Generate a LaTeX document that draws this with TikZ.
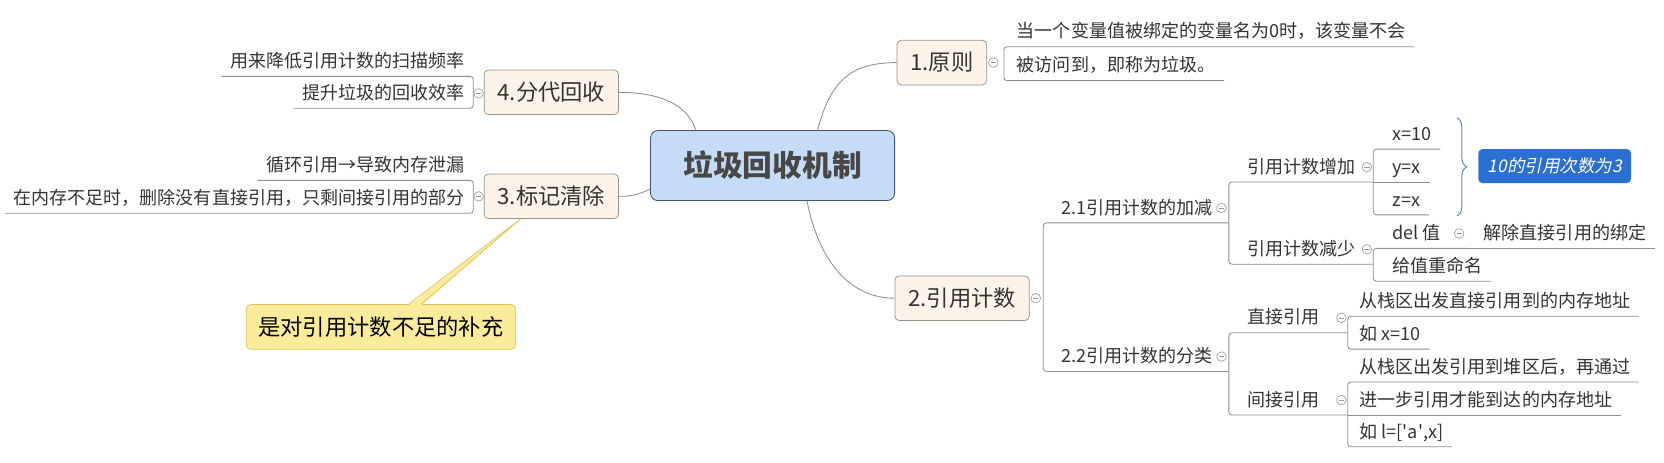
\documentclass[tikz,border=0pt]{standalone}
\usepackage{fontspec}
\setmainfont{Noto Sans CJK SC}
\newfontfamily\tagfont{Noto Sans CJK SC}[FakeSlant=0.2]
\usetikzlibrary{calc, decorations.pathreplacing}

\definecolor{linegray}{HTML}{8E8E8E}
\definecolor{foldgray}{HTML}{9A9A9A}
\definecolor{inkgray}{HTML}{333333}
\definecolor{topicfill}{HTML}{FCF3E9}
\definecolor{topicline}{HTML}{9C9187}
\definecolor{rootfill}{HTML}{C6DBF6}
\definecolor{rootline}{HTML}{3E5478}
\definecolor{notefill}{HTML}{FBEC9C}
\definecolor{noteline}{HTML}{E3C25E}
\definecolor{tagblue}{HTML}{2C6FD3}
\definecolor{bracecol}{HTML}{5A83C5}

\begin{document}
\begin{tikzpicture}[x=1pt, y=-1pt,
    link/.style={draw=linegray, line width=0.8pt, rounded corners=3pt},
    leaf/.style={inner xsep=8pt, inner ysep=4pt, text height=12pt, text depth=4pt,
        text=inkgray, font=\fontsize{17}{20}\selectfont},
    lleaf/.style={leaf, anchor=south east},
    rleaf/.style={leaf, anchor=south west},
    topic/.style={draw=topicline, fill=topicfill, rounded corners=4pt, line width=0.7pt,
        minimum height=42pt, inner xsep=12.5pt, text=inkgray,
        font=\fontsize{21}{24}\selectfont},
    fold/.style={circle, draw=foldgray, fill=white, line width=0.6pt, minimum size=9pt,
        inner sep=0pt, path picture={\draw[foldgray, line width=0.6pt]
        ([xshift=-2.5pt]path picture bounding box.center) --
        ([xshift=2.5pt]path picture bounding box.center);}}]
    % ================= Canvas =================
    \path[use as bounding box] (0,0) rectangle (1568,436);

    % ================= Bracket positions =================
    \coordinate (b1) at (946,59);
    \coordinate (b2) at (983,281);
    \coordinate (b21) at (1158,210);
    \coordinate (b22) at (1158,350);
    \coordinate (b211) at (1294,171.5);
    \coordinate (b212) at (1294,249);
    \coordinate (b2121) at (1383,234);
    \coordinate (b221) at (1270,313.5);
    \coordinate (b222) at (1270,391);

    % ================= Root and main topics =================
    \node[draw=rootline, fill=rootfill, rounded corners=7pt, line width=0.8pt,
        minimum width=230pt, minimum height=66pt, text=inkgray!90,
        font=\fontsize{28}{32}\selectfont\bfseries] (root) at (728,156) {垃圾回收机制};
    \node[topic] (t4) at (519.5,87) {4.分代回收};
    \node[topic] (t3) at (519.5,185) {3.标记清除};
    \node[topic] (t1) at (887.5,59) {1.原则};
    \node[topic] (t2) at (906.5,281) {2.引用计数};

    % Curves from the root
    \draw[link] (t4.east) .. controls +(45,0) and +(-6,-20) .. ([xshift=43pt]root.north west);
    \draw[link] (t3.east) .. controls +(15,0) and +(-10,4) .. ([yshift=11pt]root.south west);
    \draw[link] ([xshift=-73pt]root.north east) .. controls +(12,-45) and +(-45,0) .. (t1.west);
    \draw[link] ([xshift=-83pt]root.south east) .. controls +(12,60) and +(-40,0) .. (t2.west);

    % ================= Left branches =================
    \node[lleaf] (l41) at (446,72) {用来降低引用计数的扫描频率};
    \node[lleaf] (l42) at (446,102) {提升垃圾的回收效率};
    \node[lleaf] (l31) at (446,170) {循环引用→导致内存泄漏};
    \node[lleaf] (l32) at (446,201) {在内存不足时，删除没有直接引用，只剩间接引用的部分};
    \draw[link] (l41.south west) -- (l41.south east) -- (l42.south east) -- (l42.south west);
    \draw[link] (l31.south west) -- (l31.south east) -- (l32.south east) -- (l32.south west);

    % Note with callout
    \node[draw=noteline, fill=notefill, rounded corners=4pt, line width=0.7pt,
        minimum width=254pt, minimum height=42pt, text=black,
        font=\fontsize{21}{24}\selectfont] (note) at (359,308) {是对引用计数不足的补充};
    \fill[notefill] ([xshift=26pt,yshift=-1pt]note.north) -- ([xshift=-29pt]t3.south)
        -- ([xshift=38pt,yshift=-1pt]note.north) -- cycle;
    \draw[noteline, line width=0.7pt] ([xshift=26pt]note.north) -- ([xshift=-29pt]t3.south)
        -- ([xshift=38pt]note.north);

    % ================= 1.原则 =================
    \node[rleaf] (r11) at (950,44) {当一个变量值被绑定的变量名为0时，该变量不会};
    \node[rleaf] (r12) at (950,76) {被访问到，即称为垃圾。};
    \draw[link] (r11.south east) -- (r11.south -| b1) -- (r12.south -| b1) -- (r12.south east);

    % ================= 2.引用计数 =================
    \node[rleaf] (r21) at (992,210) {2.1引用计数的加减};
    \node[rleaf] (r22) at (992,350) {2.2引用计数的分类};
    \draw[link] (r21.south -| b21) -- (r21.south -| b2) -- (r22.south -| b2) -- (r22.south -| b22);

    % 2.1
    \node[rleaf] (r211) at (1167,171.5) {引用计数增加};
    \node[rleaf] (r212) at (1167,249) {引用计数减少};
    \draw[link] (r211.south -| b211) -- (r211.south -| b21) -- (r212.south -| b21) -- (r212.south -| b212);

    \node[rleaf] (r2111) at (1304,140.5) {x=10};
    \node[rleaf] (r2112) at (1304,171.5) {y=x};
    \node[rleaf] (r2113) at (1304,202.5) {z=x};
    \draw[link] (r2111.south east) -- (r2111.south -| b211) -- (r2113.south -| b211) -- (r2113.south east);
    \draw[link] (r2112.south -| b211) -- (r2112.south east);

    \draw[bracecol, line width=0.9pt, decorate, decoration={brace, amplitude=9pt}]
        (1373,111) -- (1373,203.5);
    \node[fill=tagblue, rounded corners=4pt, minimum width=144pt, minimum height=32pt,
        text=white, font=\tagfont\fontsize{16.5}{20}\selectfont] (tag) at (1465,156.5) {10的引用次数为3};

    \node[rleaf] (r2121) at (1304,234) {del 值};
    \node[rleaf] (r2122) at (1304,265) {给值重命名};
    \node[rleaf] (r21211) at (1390,234) {解除直接引用的绑定};
    \draw[link] (r2121.south -| b2121) -- (r2121.south -| b212) -- (r2122.south -| b212) -- (r2122.south east);
    \draw[link] (r21211.south -| b2121) -- (r21211.south east);

    % 2.2
    \node[rleaf] (r221) at (1167,313.5) {直接引用};
    \node[rleaf] (r222) at (1167,391) {间接引用};
    \draw[link] (r221.south -| b221) -- (r221.south -| b22) -- (r222.south -| b22) -- (r222.south -| b222);

    \node[rleaf] (r2211) at (1273,298) {从栈区出发直接引用到的内存地址};
    \node[rleaf] (r2212) at (1273,329) {如 x=10};
    \draw[link] (r2211.south east) -- (r2211.south -| b221) -- (r2212.south -| b221) -- (r2212.south east);

    \node[rleaf] (r2221) at (1273,360) {从栈区出发引用到堆区后，再通过};
    \node[rleaf] (r2222) at (1273,391) {进一步引用才能到达的内存地址};
    \node[rleaf] (r2223) at (1273,421) {如 l=[\textquotesingle a\textquotesingle,x]};
    \draw[link] (r2221.south east) -- (r2221.south -| b222) -- (r2223.south -| b222) -- (r2223.south east);
    \draw[link] (r2222.south -| b222) -- (r2222.south east);

    % ================= Fold markers =================
    \node[fold] (f4) at (451,88) {};
    \node[fold] (f3) at (451,185) {};
    \node[fold] (f1) at (936,59) {};
    \node[fold] (f2) at (976,281) {};
    \node[fold] (f21) at (1151,196) {};
    \node[fold] (f22) at (1151,336) {};
    \node[fold] (f211) at (1288,157.5) {};
    \node[fold] (f212) at (1288,235) {};
    \node[fold] (f2121) at (1375,220) {};
    \node[fold] (f221) at (1264,299.5) {};
    \node[fold] (f222) at (1264,377) {};
\end{tikzpicture}
\end{document}
